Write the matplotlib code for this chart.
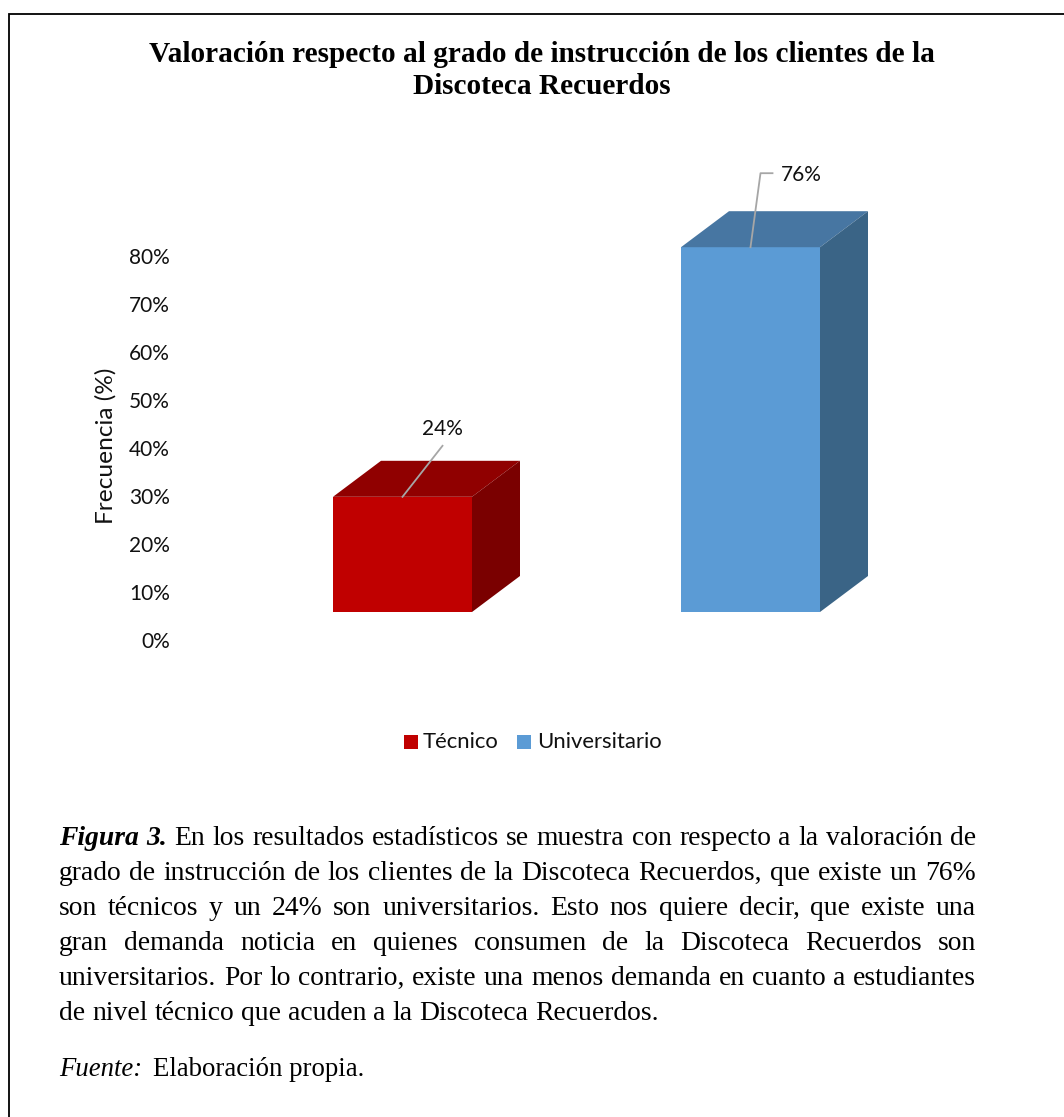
import matplotlib
matplotlib.use("Agg")
import matplotlib.pyplot as plt
from matplotlib.patches import Polygon, Rectangle

W, H = 1064, 1117
categories = ["Técnico", "Universitario"]
values = [24, 76]
labels = ["24%", "76%"]
front_colors = ["#C00000", "#5B9BD5"]
top_colors = ["#900000", "#4776A2"]
side_colors = ["#7A0000", "#3A6486"]
tick_values = [0, 10, 20, 30, 40, 50, 60, 70, 80]
title = "Valoración respecto al grado de instrucción de los clientes de la\nDiscoteca Recuerdos"
y_label = "Frecuencia (%)"
caption_lines = [
    [("Figura 3.", True), ("En los resultados estadísticos se muestra con respecto a la valoración de", False)],
    [("grado de instrucción de los clientes de la Discoteca Recuerdos, que existe un 76%", False)],
    [("son técnicos y un 24% son universitarios.  Esto nos quiere decir, que existe una", False)],
    [("gran demanda noticia en quienes consumen de la Discoteca Recuerdos son", False)],
    [("universitarios. Por lo contrario, existe una menos demanda en cuanto a estudiantes", False)],
    [("de nivel técnico que acuden a la Discoteca Recuerdos.", False)],
]
source_label = "Fuente:"
source_text = "Elaboración propia."

SANS = ["Lato", "DejaVu Sans"]
SERIF = ["Liberation Serif", "DejaVu Serif"]
SANS_FS = 15.0
LEGEND_FS = 15.9
INK = "#111111"

fig = plt.figure(figsize=(W / 100, H / 100), dpi=100, facecolor="white")
bg = fig.add_axes([0, 0, 1, 1])
bg.set_xlim(0, W)
bg.set_ylim(H, 0)
bg.axis("off")
bg.plot([W, 8.5, 8.5], [13.5, 13.5, H], color="black", lw=1.3, solid_joinstyle="miter")

bg.text(541.5, 70.5, title, ha="center", va="center", family=SERIF, fontsize=21.1,
        fontweight="bold", linespacing=1.24, color="black")


def box(x0, x1, base, top):
    return fig.add_axes([x0 / W, 1 - base / H, (x1 - x0) / W, (base - top) / H])


# Bars: value 0 at pixel 612, 4.8 px per percentage point
ax = box(228.5, 924.5, 612, 150)
ax.set_xlim(-0.5, 1.5)
ax.set_ylim(0, 462 / 4.8)
ax.axis("off")
ax.patch.set_alpha(0)
bar_w = 139 / 348
dx = 48 / 348
dy = 36 / 4.8
for i, v in enumerate(values):
    l, r = i - bar_w / 2, i + bar_w / 2
    ax.bar(i, v, bar_w, color=front_colors[i], zorder=3)
    ax.add_patch(Polygon([(l, v), (r, v), (r + dx, v + dy), (l + dx, v + dy)], color=top_colors[i], lw=0, zorder=3))
    ax.add_patch(Polygon([(r, 0), (r + dx, dy), (r + dx, v + dy), (r, v)], color=side_colors[i], lw=0, zorder=3))

ax.plot([0, 40 / 348], [values[0], values[0] + 51 / 4.8], color="#A6A6A6", lw=1.3, zorder=4)
ax.text(40 / 348, values[0] + 68 / 4.8, labels[0], ha="center", va="center", family=SANS, fontsize=SANS_FS, color=INK, zorder=5)
ax.plot([1, 1 + 10 / 348, 1 + 22 / 348], [values[1], values[1] + 74 / 4.8, values[1] + 74 / 4.8], color="#A6A6A6", lw=1.3, zorder=4)
ax.text(1 + 51 / 348, values[1] + 72 / 4.8, labels[1], ha="center", va="center", family=SANS, fontsize=SANS_FS, color=INK, zorder=5)

# Value axis labels: value 0 at pixel 640
ay = box(175, 176, 640, 178)
ay.set_ylim(0, 462 / 4.8)
ay.set_xticks([])
ay.set_yticks(tick_values, [f"{t}%" for t in tick_values], family=SANS, fontsize=SANS_FS, color=INK)
ay.tick_params(axis="y", length=0, pad=3.5)
for s in ay.spines.values():
    s.set_visible(False)
ay.patch.set_alpha(0)
bg.text(106, 446, y_label, rotation=90, ha="center", va="center", family=SANS, fontsize=17.6, color=INK)

# Legend
bg.add_patch(Rectangle((404, 735), 14, 14, color=front_colors[0], lw=0))
bg.text(423, 742, categories[0], va="center", family=SANS, fontsize=LEGEND_FS, color=INK)
bg.add_patch(Rectangle((517, 735), 14, 14, color=front_colors[1], lw=0))
bg.text(537, 742, categories[1], va="center", family=SANS, fontsize=LEGEND_FS, color=INK)

# Caption, justified word by word
renderer = fig.canvas.get_renderer()
FS = 19.9
SOURCE_FS = 19.3
X0, X1 = 59, 976
Y0, DY = 845, 35


def measure(word, style="normal", weight="normal", size=FS):
    t = bg.text(0, 0, word, family=SERIF, fontsize=size, style=style, fontweight=weight)
    w = t.get_window_extent(renderer).width
    t.remove()
    return w


space = measure("a b") - measure("a") - measure("b")
for n, line in enumerate(caption_lines):
    words = []
    for txt, strong in line:
        for wd in txt.split():
            words.append((wd, strong))
    widths = [measure(w, "italic" if s else "normal", "bold" if s else "normal") for w, s in words]
    if n < len(caption_lines) - 1:
        gap = (X1 - X0 - sum(widths)) / (len(words) - 1)
    else:
        gap = space
    x = X0
    y = Y0 + n * DY
    for (w, s), wd in zip(words, widths):
        bg.text(x, y, w, va="baseline", family=SERIF, fontsize=FS,
                style="italic" if s else "normal", fontweight="bold" if s else "normal", color="black")
        x += wd + gap

bg.text(X0, 1076, source_label, va="baseline", family=SERIF, fontsize=SOURCE_FS, style="italic", color="black")
bg.text(153, 1076, source_text, va="baseline", family=SERIF, fontsize=SOURCE_FS, color="black")

fig.savefig("out.png", dpi=100, facecolor="white")
